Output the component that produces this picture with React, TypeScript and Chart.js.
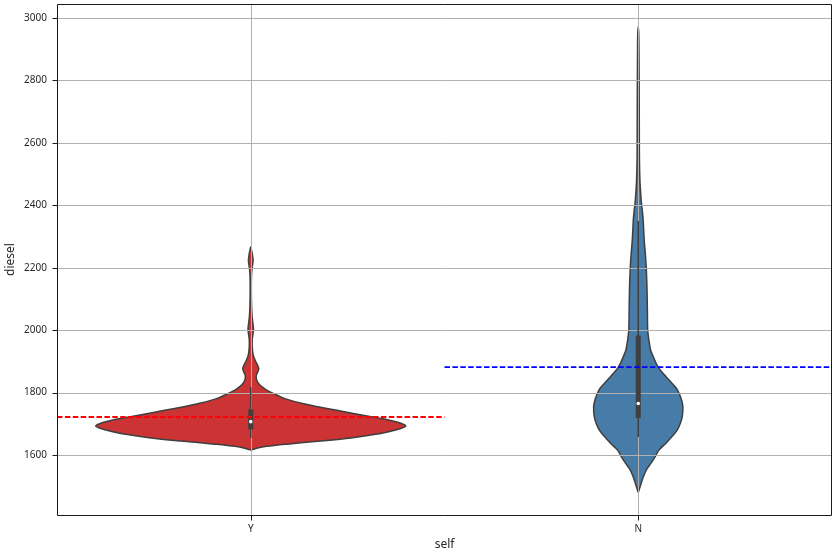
import React, { useEffect, useRef } from "react";
import { Chart, registerables } from "chart.js";

Chart.register(...registerables);

// ---------- data ----------
const categories = ["Y", "N"];
const yTicks = [1600, 1800, 2000, 2200, 2400, 2600, 2800, 3000];
const Y_MIN = 1408;
const Y_MAX = 3045;

// kernel-density profile of "Y" (value, half-width in category units)
const violinYValues = [
  1616, 1622, 1628, 1635, 1645, 1655, 1665, 1675, 1685, 1693, 1702, 1712, 1722, 1735,
  1750, 1765, 1780, 1795, 1810, 1825, 1840, 1855, 1866, 1877, 1890, 1903, 1920, 1945,
  1970, 1990, 2005, 2020, 2045, 2080, 2130, 2180, 2205, 2222, 2240, 2256, 2267,
];
const violinYWidths = [
  0, 0.0155, 0.041, 0.093, 0.18, 0.258, 0.314, 0.356, 0.387, 0.4, 0.387, 0.356, 0.314, 0.258,
  0.193, 0.134, 0.09, 0.062, 0.039, 0.023, 0.0155, 0.0142, 0.018, 0.0206, 0.0168, 0.0116, 0.0064, 0.0039,
  0.0039, 0.0059, 0.007, 0.0057, 0.0034, 0.0021, 0.0015, 0.0021, 0.0041, 0.0059, 0.0046, 0.0021, 0,
];

// kernel-density profile of "N"
const violinNValues = [
  1480, 1495, 1510, 1530, 1552, 1575, 1595, 1615, 1637, 1660, 1680, 1700, 1722, 1754,
  1775, 1797, 1815, 1829, 1845, 1861, 1877, 1893, 1915, 1935, 1960, 1999, 2050, 2094,
  2150, 2199, 2240, 2275, 2310, 2350, 2380, 2403, 2440, 2477, 2541, 2600, 2700, 2800,
  2900, 2950, 2972,
];
const violinNWidths = [
  0, 0.0039, 0.0077, 0.0129, 0.0206, 0.0335, 0.0438, 0.0528, 0.0709, 0.0876, 0.1005, 0.1082, 0.1134, 0.1152,
  0.1121, 0.1057, 0.0979, 0.0876, 0.076, 0.0644, 0.0541, 0.0464, 0.0387, 0.0322, 0.0284, 0.0245, 0.0237, 0.0232,
  0.0222, 0.0206, 0.0186, 0.0162, 0.0144, 0.0129, 0.0108, 0.0085, 0.0062, 0.0044, 0.0031, 0.0028, 0.0026, 0.0023,
  0.0018, 0.0013, 0,
];

// inner box statistics per category
const boxQ1 = [1682, 1719];
const boxQ3 = [1746, 1983];
const boxMedian = [1707, 1765];
const whiskerLow = [1655, 1658];
const whiskerHigh = [1818, 2350];

// mean reference lines
const meanValues = [1722, 1882];

// ---------- styles ----------
const violinFill = ["#cb3334", "#477ca8"];
const meanColors = ["#ff0000", "#0000ff"];
const EDGE = "#3f3f3f";
const TEXT = "#262626";
const GRID = "#b0b0b0";
const FONT = "'Noto Sans', 'Open Sans', sans-serif";

const profiles = [
  { values: violinYValues, widths: violinYWidths },
  { values: violinNValues, widths: violinNWidths },
];

function violinPolygon(ci: number) {
  const { values, widths } = profiles[ci];
  const pts: { x: number; y: number }[] = [];
  for (let i = 0; i < values.length; i++) pts.push({ x: ci + widths[i], y: values[i] });
  for (let i = values.length - 2; i >= 0; i--) pts.push({ x: ci - widths[i], y: values[i] });
  return pts;
}

function drawGrid(chart: any) {
  const { ctx, chartArea: a, scales } = chart;
  const xs = scales.x;
  const ys = scales.y;
  ctx.save();
  ctx.strokeStyle = GRID;
  ctx.lineWidth = 1;
  ctx.beginPath();
  for (const v of yTicks) {
    const py = Math.round(ys.getPixelForValue(v)) + 0.5;
    ctx.moveTo(a.left, py);
    ctx.lineTo(a.right, py);
  }
  categories.forEach((_, i) => {
    const px = Math.round(xs.getPixelForValue(i)) + 0.5;
    ctx.moveTo(px, a.top);
    ctx.lineTo(px, a.bottom);
  });
  ctx.stroke();
  ctx.restore();
}

const overlayPlugin = {
  id: "mplOverlay",
  beforeDatasetsDraw(chart: any) {
    chart.$violinDrawn = 0;
  },
  afterDatasetDraw(chart: any, args: any) {
    const ds: any = chart.data.datasets[args.index];
    if (!ds.isViolin) return;
    chart.$violinDrawn = (chart.$violinDrawn || 0) + 1;
    if (chart.$violinDrawn === categories.length) drawGrid(chart);
  },
  afterDraw(chart: any) {
    const { ctx, chartArea: a, scales } = chart;
    const xs = scales.x;
    const ys = scales.y;
    ctx.save();
    ctx.strokeStyle = "#1a1a1a";
    ctx.lineWidth = 1;
    ctx.beginPath();
    const L = Math.round(a.left) + 0.5;
    const R = Math.round(a.right) - 0.5;
    const T = Math.round(a.top) + 0.5;
    const B = Math.round(a.bottom) + 0.5;
    ctx.moveTo(L, T);
    ctx.lineTo(R, T);
    ctx.lineTo(R, B);
    ctx.lineTo(L, B);
    ctx.closePath();
    for (const v of yTicks) {
      const py = Math.round(ys.getPixelForValue(v)) + 0.5;
      ctx.moveTo(L - 5, py);
      ctx.lineTo(L, py);
    }
    categories.forEach((_, i) => {
      const px = Math.round(xs.getPixelForValue(i)) + 0.5;
      ctx.moveTo(px, B);
      ctx.lineTo(px, B + 5);
    });
    ctx.stroke();
    ctx.restore();
  },
};

export default function App() {
  const ref = useRef<HTMLCanvasElement | null>(null);

  useEffect(() => {
    document.body.style.margin = "0";
    const canvas = ref.current;
    if (!canvas) return;

    const datasets: any[] = [];
    categories.forEach((_, ci) => {
      datasets.push({
        isViolin: true,
        label: "violin-" + categories[ci],
        data: violinPolygon(ci),
        showLine: true,
        fill: "shape",
        backgroundColor: violinFill[ci],
        borderColor: EDGE,
        borderWidth: 1.5,
        borderJoinStyle: "round",
        tension: 0.3,
        pointRadius: 0,
        pointHoverRadius: 0,
        order: 5,
      });
    });
    categories.forEach((_, ci) => {
      datasets.push({
        label: "whisker-" + categories[ci],
        data: [
          { x: ci, y: whiskerLow[ci] },
          { x: ci, y: whiskerHigh[ci] },
        ],
        showLine: true,
        fill: false,
        borderColor: EDGE,
        borderWidth: 1.5,
        pointRadius: 0,
        order: 4,
      });
      datasets.push({
        label: "box-" + categories[ci],
        data: [
          { x: ci, y: boxQ1[ci] },
          { x: ci, y: boxQ3[ci] },
        ],
        showLine: true,
        fill: false,
        borderColor: EDGE,
        borderWidth: 5,
        borderCapStyle: "butt",
        pointRadius: 0,
        order: 3,
      });
      datasets.push({
        label: "median-" + categories[ci],
        data: [{ x: ci, y: boxMedian[ci] }],
        showLine: false,
        pointRadius: 1.8,
        pointBorderWidth: 0,
        pointBackgroundColor: "#ffffff",
        pointBorderColor: "#ffffff",
        order: 2,
      });
      datasets.push({
        label: "mean-" + categories[ci],
        data: [
          { x: ci - 0.5, y: meanValues[ci] },
          { x: ci + 0.5, y: meanValues[ci] },
        ],
        showLine: true,
        fill: false,
        borderColor: meanColors[ci],
        borderWidth: 1.8,
        borderDash: [5.5, 2.4],
        pointRadius: 0,
        order: 1,
      });
    });

    const chart = new Chart(canvas, {
      type: "scatter",
      data: { datasets },
      options: {
        animation: false,
        responsive: false,
        events: [],
        layout: { padding: { top: 3, right: 6, left: 0, bottom: 0 } },
        plugins: {
          legend: { display: false },
          tooltip: { enabled: false },
        },
        scales: {
          x: {
            type: "linear",
            min: -0.5,
            max: 1.5,
            grid: { display: false, drawTicks: true, tickLength: 5 },
            border: { display: false },
            afterBuildTicks: (scale: any) => {
              scale.ticks = categories.map((_, i) => ({ value: i }));
            },
            afterFit: (scale: any) => {
              scale.height = 41;
              scale.paddingLeft = 0;
              scale.paddingRight = 0;
            },
            ticks: {
              padding: 3,
              color: TEXT,
              font: { family: FONT, size: 10 },
              maxRotation: 0,
              autoSkip: false,
              callback: (v: any) => categories[Math.round(Number(v))] ?? "",
            },
            title: {
              display: true,
              text: "self",
              color: TEXT,
              font: { family: FONT, size: 12 },
              padding: { top: 0, bottom: 4.5 },
            },
          },
          y: {
            type: "linear",
            min: Y_MIN,
            max: Y_MAX,
            grid: { display: false, drawTicks: true, tickLength: 5 },
            border: { display: false },
            afterBuildTicks: (scale: any) => {
              scale.ticks = yTicks.map((v) => ({ value: v }));
            },
            afterFit: (scale: any) => {
              scale.width = 57;
              scale.paddingTop = 0;
              scale.paddingBottom = 0;
            },
            ticks: {
              padding: 5,
              color: TEXT,
              font: { family: FONT, size: 10 },
              autoSkip: false,
              callback: (v: any) => String(v),
            },
            title: {
              display: true,
              text: "diesel",
              color: TEXT,
              font: { family: FONT, size: 12 },
              padding: { top: 3, bottom: 0 },
            },
          },
        },
      } as any,
      plugins: [overlayPlugin as any],
    });

    return () => {
      chart.destroy();
    };
  }, []);

  return <canvas ref={ref} width={838} height={556} style={{ display: "block" }} />;
}
